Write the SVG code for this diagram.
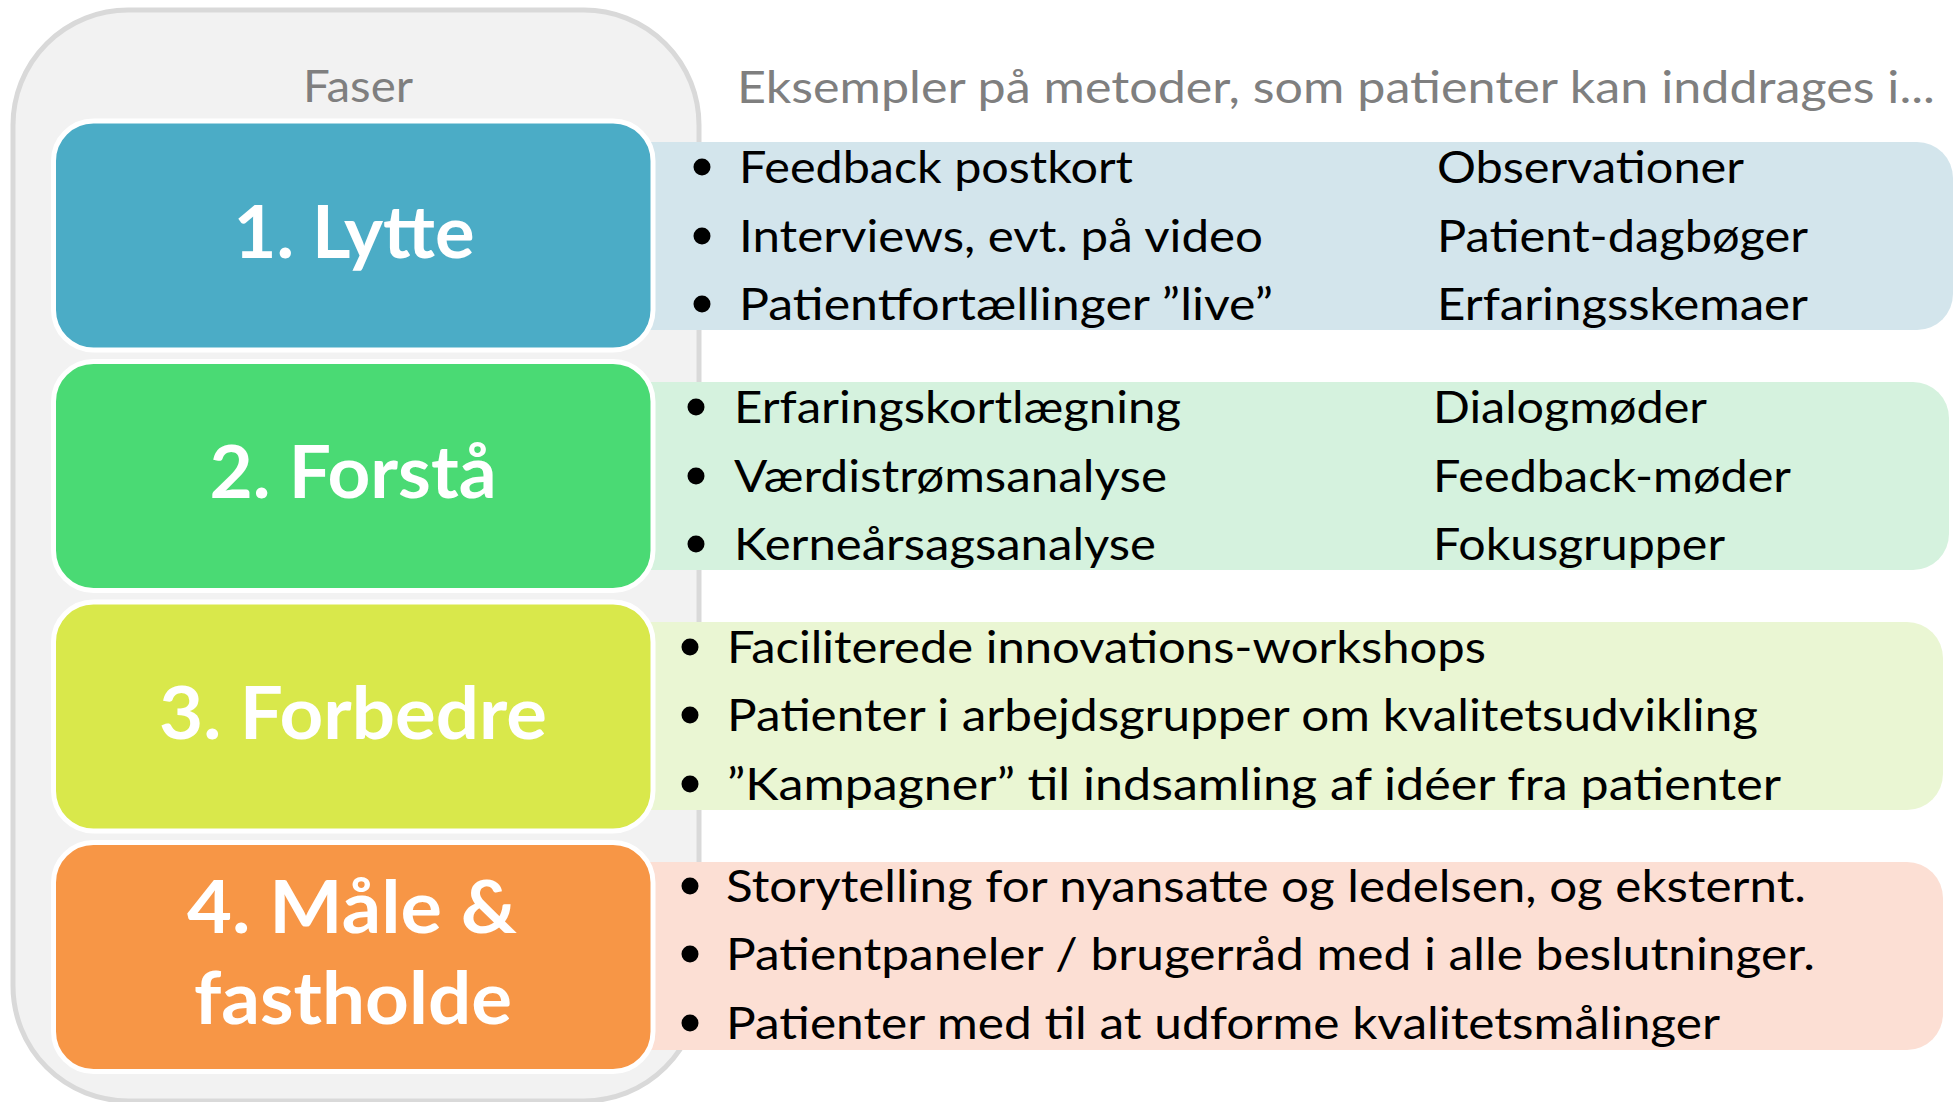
<svg xmlns="http://www.w3.org/2000/svg" width="1959" height="1102" viewBox="0 0 1959 1102">
  <style>
    text { font-family: Lato, "Noto Sans", "Liberation Sans", sans-serif; }
    .hdr { font-size: 44px; fill: #7f7f7f; }
    .phase { stroke: #ffffff; stroke-width: 5; }
    .plabel { font-size: 73px; font-weight: bold; fill: #ffffff; text-anchor: middle; }
    .item { font-size: 45px; fill: #000000; }
    .bullet { fill: #000000; }
  </style>
  <rect width="1959" height="1102" fill="#ffffff"/>
  <!-- container -->
  <g id="container">
    <rect x="13" y="10" width="686" height="1091" rx="115" ry="115" fill="#f2f2f2" stroke="#d9d9d9" stroke-width="5"/>
    <text class="hdr" x="303" y="102" font-size="46" textLength="110" lengthAdjust="spacingAndGlyphs">Faser</text>
  </g>
  <text id="header" class="hdr" x="737" y="103" textLength="1198" lengthAdjust="spacingAndGlyphs">Eksempler på metoder, som patienter kan inddrages i...</text>

  <!-- method panels -->
  <g id="panel1">
    <rect x="600" y="142" width="1353" height="188" rx="36" ry="36" fill="#d3e5ec"/>
  </g>
  <g id="panel2">
    <rect x="600" y="382" width="1349" height="188" rx="36" ry="36" fill="#d5f2de"/>
  </g>
  <g id="panel3">
    <rect x="600" y="622" width="1343" height="188" rx="36" ry="36" fill="#eaf6d3"/>
  </g>
  <g id="panel4">
    <rect x="600" y="862" width="1343" height="188" rx="36" ry="36" fill="#fcdfd4"/>
  </g>

  <!-- phase boxes -->
  <g id="phase1">
    <rect class="phase" x="53.5" y="121" width="599.5" height="229" rx="40" ry="40" fill="#4bacc6"/>
    <text class="plabel" x="354" y="258" textLength="241" lengthAdjust="spacingAndGlyphs">1. Lytte</text>
  </g>
  <g id="phase2">
    <rect class="phase" x="53.5" y="361.5" width="599.5" height="229" rx="40" ry="40" fill="#4ada74"/>
    <text class="plabel" x="353" y="498" textLength="287" lengthAdjust="spacingAndGlyphs">2. Forstå</text>
  </g>
  <g id="phase3">
    <rect class="phase" x="53.5" y="602" width="599.5" height="229" rx="40" ry="40" fill="#d9e84b"/>
    <text class="plabel" x="353" y="739" textLength="388" lengthAdjust="spacingAndGlyphs">3. Forbedre</text>
  </g>
  <g id="phase4">
    <rect class="phase" x="53.5" y="842.5" width="599.5" height="229" rx="40" ry="40" fill="#f79646"/>
    <text class="plabel" x="352" y="933" textLength="330" lengthAdjust="spacingAndGlyphs">4. Måle &amp;</text>
    <text class="plabel" x="353" y="1024" textLength="318" lengthAdjust="spacingAndGlyphs">fastholde</text>
  </g>

  <!-- panel texts -->
  <g id="items1">
    <circle class="bullet" cx="702" cy="167" r="8.5"/>
    <circle class="bullet" cx="702" cy="236" r="8.5"/>
    <circle class="bullet" cx="702" cy="304" r="8.5"/>
    <text class="item" x="739" y="183" textLength="394" lengthAdjust="spacingAndGlyphs">Feedback postkort</text>
    <text class="item" x="739" y="252" textLength="524" lengthAdjust="spacingAndGlyphs">Interviews, evt. på video</text>
    <text class="item" x="739" y="320" textLength="534" lengthAdjust="spacingAndGlyphs">Patientfortællinger ”live”</text>
    <text class="item" x="1437" y="183" textLength="307" lengthAdjust="spacingAndGlyphs">Observationer</text>
    <text class="item" x="1437" y="252" textLength="371" lengthAdjust="spacingAndGlyphs">Patient-dagbøger</text>
    <text class="item" x="1437" y="320" textLength="371" lengthAdjust="spacingAndGlyphs">Erfaringsskemaer</text>
  </g>
  <g id="items2">
    <circle class="bullet" cx="696" cy="407" r="8.5"/>
    <circle class="bullet" cx="696" cy="476" r="8.5"/>
    <circle class="bullet" cx="696" cy="544" r="8.5"/>
    <text class="item" x="734" y="423" textLength="447" lengthAdjust="spacingAndGlyphs">Erfaringskortlægning</text>
    <text class="item" x="734" y="492" textLength="433" lengthAdjust="spacingAndGlyphs">Værdistrømsanalyse</text>
    <text class="item" x="734" y="560" textLength="422" lengthAdjust="spacingAndGlyphs">Kerneårsagsanalyse</text>
    <text class="item" x="1433" y="423" textLength="274" lengthAdjust="spacingAndGlyphs">Dialogmøder</text>
    <text class="item" x="1433" y="492" textLength="358" lengthAdjust="spacingAndGlyphs">Feedback-møder</text>
    <text class="item" x="1433" y="560" textLength="292" lengthAdjust="spacingAndGlyphs">Fokusgrupper</text>
  </g>
  <g id="items3">
    <circle class="bullet" cx="690" cy="647" r="8.5"/>
    <circle class="bullet" cx="690" cy="715" r="8.5"/>
    <circle class="bullet" cx="690" cy="784" r="8.5"/>
    <text class="item" x="727" y="663" textLength="759" lengthAdjust="spacingAndGlyphs">Faciliterede innovations-workshops</text>
    <text class="item" x="727" y="731" textLength="1031" lengthAdjust="spacingAndGlyphs">Patienter i arbejdsgrupper om kvalitetsudvikling</text>
    <text class="item" x="727" y="800" textLength="1054" lengthAdjust="spacingAndGlyphs">”Kampagner” til indsamling af idéer fra patienter</text>
  </g>
  <g id="items4">
    <circle class="bullet" cx="690" cy="886" r="8.5"/>
    <circle class="bullet" cx="690" cy="954" r="8.5"/>
    <circle class="bullet" cx="690" cy="1023" r="8.5"/>
    <text class="item" x="726" y="902" textLength="1080" lengthAdjust="spacingAndGlyphs">Storytelling for nyansatte og ledelsen, og eksternt.</text>
    <text class="item" x="726" y="970" textLength="1089" lengthAdjust="spacingAndGlyphs">Patientpaneler / brugerråd med i alle beslutninger.</text>
    <text class="item" x="726" y="1039" textLength="994" lengthAdjust="spacingAndGlyphs">Patienter med til at udforme kvalitetsmålinger</text>
  </g>
  <g id="connectors"></g>
</svg>
